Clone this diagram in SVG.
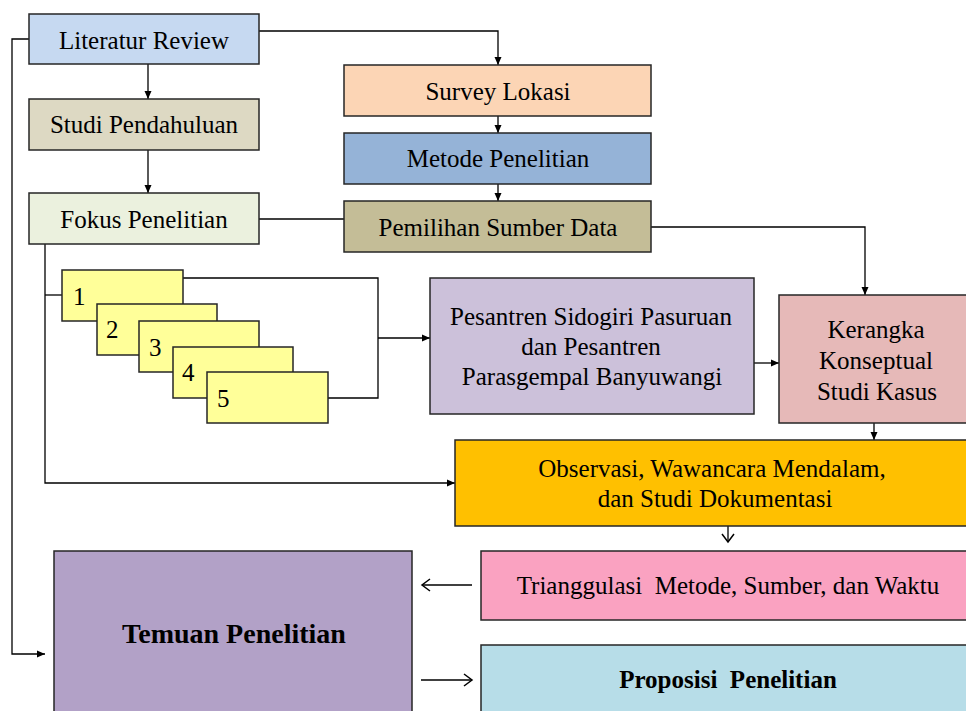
<svg xmlns="http://www.w3.org/2000/svg" width="966" height="711" viewBox="0 0 966 711">
<style>
.box{stroke:#262626;stroke-width:1.5}
.t{font-family:"Liberation Serif","Times New Roman",serif;font-size:25px;fill:#000;text-anchor:middle}
.n{font-family:"Liberation Serif","Times New Roman",serif;font-size:25px;fill:#000}
.b{font-weight:bold}
.pre{white-space:pre}
.c{fill:none;stroke:#000;stroke-width:1.3}
</style>
<defs>
<marker id="a" markerUnits="userSpaceOnUse" markerWidth="10" markerHeight="10" refX="8" refY="5" orient="auto">
<path d="M0,1.5 L8,5 L0,8.5 Z" fill="#000"/>
</marker>
<marker id="o" markerUnits="userSpaceOnUse" markerWidth="14" markerHeight="14" refX="12" refY="7" orient="auto">
<path d="M4,1 L12,7 L4,13" fill="none" stroke="#000" stroke-width="1.5"/>
</marker>
</defs>
<rect width="966" height="711" fill="#fff"/>
<g id="connectors">
<polyline class="c" points="29,39 12,39 12,654 45,654" marker-end="url(#a)"/>
<polyline class="c" points="259,31 498,31 498,65" marker-end="url(#a)"/>
<line class="c" x1="148" y1="64" x2="148" y2="99" marker-end="url(#a)"/>
<line class="c" x1="148" y1="150" x2="148" y2="193" marker-end="url(#a)"/>
<line class="c" x1="498" y1="116" x2="498" y2="133" marker-end="url(#a)"/>
<line class="c" x1="498" y1="184" x2="498" y2="201" marker-end="url(#a)"/>
<line class="c" x1="259" y1="219" x2="344" y2="219"/>
<polyline class="c" points="651,227 865,227 865,295" marker-end="url(#a)"/>
<polyline class="c" points="45,244 45,483 455,483" marker-end="url(#a)"/>
<line class="c" x1="45" y1="295" x2="62" y2="295"/>
<polyline class="c" points="183,278 378,278 378,398 328,398"/>
<line class="c" x1="378" y1="338" x2="430" y2="338" marker-end="url(#a)"/>
<line class="c" x1="754" y1="363" x2="779" y2="363" marker-end="url(#a)"/>
<line class="c" x1="874" y1="423" x2="874" y2="440" marker-end="url(#a)"/>
<line class="c" x1="728" y1="526" x2="728" y2="542" marker-end="url(#o)"/>
<line class="c" x1="472" y1="585" x2="422" y2="585" marker-end="url(#o)"/>
<line class="c" x1="421" y1="680" x2="472" y2="680" marker-end="url(#o)"/>
</g>
<g id="literatur-review"><rect class="box" x="29" y="14" width="230" height="50" fill="#C6D9F1"/><text class="t" x="144" y="49">Literatur Review</text></g>
<g id="studi-pendahuluan"><rect class="box" x="29" y="99" width="230" height="51" fill="#DDD9C3"/><text class="t" x="144" y="133">Studi Pendahuluan</text></g>
<g id="fokus-penelitian"><rect class="box" x="29" y="193" width="230" height="51" fill="#EBF1DE"/><text class="t" x="144" y="228">Fokus Penelitian</text></g>
<g id="survey-lokasi"><rect class="box" x="344" y="65" width="307" height="51" fill="#FCD5B5"/><text class="t" x="498" y="100">Survey Lokasi</text></g>
<g id="metode-penelitian"><rect class="box" x="344" y="133" width="307" height="51" fill="#95B3D7"/><text class="t" x="498" y="167">Metode Penelitian</text></g>
<g id="pemilihan-sumber-data"><rect class="box" x="344" y="201" width="307" height="51" fill="#C4BD97"/><text class="t" x="498" y="236">Pemilihan Sumber Data</text></g>
<g id="fokus-1"><rect class="box" x="62" y="270" width="121" height="51" fill="#FFFF99"/><text class="n" x="73" y="305">1</text></g>
<g id="fokus-2"><rect class="box" x="97" y="304" width="120" height="51" fill="#FFFF99"/><text class="n" x="106" y="338">2</text></g>
<g id="fokus-3"><rect class="box" x="139" y="321" width="120" height="51" fill="#FFFF99"/><text class="n" x="149" y="356">3</text></g>
<g id="fokus-4"><rect class="box" x="173" y="347" width="120" height="51" fill="#FFFF99"/><text class="n" x="182" y="381">4</text></g>
<g id="fokus-5"><rect class="box" x="207" y="372" width="121" height="51" fill="#FFFF99"/><text class="n" x="217" y="407">5</text></g>
<g id="pesantren"><rect class="box" x="430" y="278" width="324" height="136" fill="#CCC1DA"/>
<text class="t" x="591" y="325">Pesantren Sidogiri Pasuruan</text><text class="t" x="591" y="355">dan Pesantren</text><text class="t" x="592" y="385">Parasgempal Banyuwangi</text></g>
<g id="kerangka"><rect class="box" x="779" y="295" width="190" height="128" fill="#E6B9B8"/>
<text class="t" x="876" y="338">Kerangka</text><text class="t" x="876" y="369">Konseptual</text><text class="t" x="877" y="400">Studi Kasus</text></g>
<g id="observasi"><rect class="box" x="455" y="440" width="514" height="86" fill="#FFC000"/>
<text class="t" x="712" y="477">Observasi, Wawancara Mendalam,</text><text class="t" x="715" y="507">dan Studi Dokumentasi</text></g>
<g id="triangulasi"><rect class="box" x="481" y="551" width="488" height="69" fill="#FAA2C1"/><text class="t pre" x="728" y="594">Trianggulasi  Metode, Sumber, dan Waktu</text></g>
<g id="proposisi"><rect class="box" x="481" y="645" width="488" height="70" fill="#B7DDE8"/><text class="t b pre" x="728" y="688">Proposisi  Penelitian</text></g>
<g id="temuan"><rect class="box" x="54" y="551" width="358" height="164" fill="#B2A1C7"/><text class="t b" x="234" y="643" style="font-size:28px">Temuan Penelitian</text></g>
</svg>
